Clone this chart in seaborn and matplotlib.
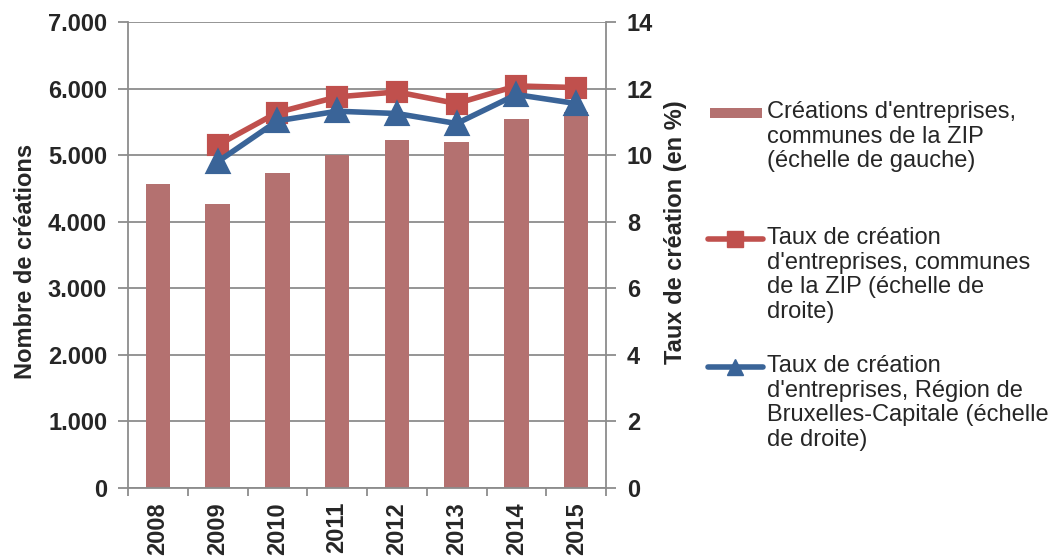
import matplotlib
matplotlib.use("Agg")
import matplotlib.pyplot as plt
import matplotlib.ticker as mticker
from matplotlib.lines import Line2D
from matplotlib.patches import Rectangle
import seaborn as sns
import pandas as pd
import numpy as np

years = ["2008", "2009", "2010", "2011", "2012", "2013", "2014", "2015"]
creations_zip = [4560, 4260, 4730, 5000, 5230, 5190, 5540, 5650]
line_years = ["2009", "2010", "2011", "2012", "2013", "2014", "2015"]
taux_zip = [10.3, 11.28, 11.75, 11.9, 11.55, 12.08, 12.03]
taux_region = [9.8, 11.03, 11.32, 11.25, 10.95, 11.82, 11.55]

label_bar = "Créations d'entreprises,\ncommunes de la ZIP\n(échelle de gauche)"
label_red = "Taux de création\nd'entreprises, communes\nde la ZIP (échelle de\ndroite)"
label_blue = "Taux de création\nd'entreprises, Région de\nBruxelles-Capitale (échelle\nde droite)"

bar_color = "#B47170"
red = "#C0504D"
blue = "#3A6498"
grid_c = "#8C8C8C"

sns.set_style("white")
plt.rcParams["font.family"] = ["Liberation Sans", "DejaVu Sans"]

W, H = 1059, 558
fig = plt.figure(figsize=(W / 100, H / 100), dpi=100)
L, R, T, B = 128, 606, 22, 488
ax = fig.add_axes([L / W, 1 - B / H, (R - L) / W, (B - T) / H])

df_bar = pd.DataFrame({"year": years, "n": creations_zip})
sns.barplot(data=df_bar, x="year", y="n", order=years, color=bar_color,
            saturation=1, width=0.41, ax=ax, zorder=2)
for p in ax.patches:
    p.set_edgecolor("none")

ax.set_ylim(0, 7000)
ax.set_xlim(-0.5, 7.5)
ax.set_yticks(np.arange(0, 7001, 1000))
ax.yaxis.set_major_formatter(mticker.FuncFormatter(lambda v, p: f"{int(v):,}".replace(",", ".")))
ax.grid(axis="y", color=grid_c, linewidth=1.3, zorder=0)
ax.set_axisbelow(True)
ax.set_xlabel("")
ax.set_ylabel("Nombre de créations", fontsize=17, fontweight="bold", labelpad=8)
ax.yaxis.label.set_y(0.487)

ax2 = ax.twinx()
df_l = pd.DataFrame({"year": line_years, "zip": taux_zip, "reg": taux_region})
sns.pointplot(data=df_l, x="year", y="zip", order=years, color=red, marker="s",
              markersize=13, linewidth=4, ax=ax2)
sns.pointplot(data=df_l, x="year", y="reg", order=years, color=blue, marker="^",
              markersize=14, linewidth=4, ax=ax2)
ax2.set_ylim(0, 14)
ax2.set_xlim(-0.5, 7.5)
ax2.set_yticks(np.arange(0, 15, 2))
ax2.set_ylabel("Taux de création (en %)", fontsize=17, fontweight="bold", labelpad=8)
ax2.yaxis.label.set_y(0.549)
ax2.set_xlabel("")

for a in (ax, ax2):
    for s in a.spines.values():
        s.set_visible(False)
ax.spines["left"].set_visible(True)
ax.spines["left"].set_color(grid_c)
ax.spines["left"].set_linewidth(1.3)
ax.spines["bottom"].set_visible(True)
ax.spines["bottom"].set_color(grid_c)
ax.spines["bottom"].set_linewidth(1.3)
ax2.spines["right"].set_visible(True)
ax2.spines["right"].set_color(grid_c)
ax2.spines["right"].set_linewidth(1.3)

ax.tick_params(axis="y", left=True, length=7, width=1.3, color=grid_c, labelsize=17, pad=8)
ax2.tick_params(axis="y", right=True, length=7, width=1.3, color=grid_c, labelsize=17, pad=8)
ax.set_xticks(range(len(years)))
ax.set_xticklabels(years, rotation=90)
ax.tick_params(axis="x", which="major", bottom=False, length=0, labelsize=17, pad=10)
ax.set_xticks(np.arange(-0.5, 8, 1), minor=True)
ax.tick_params(axis="x", which="minor", bottom=True, length=6, width=1.3, color=grid_c)
for lab in ax.get_yticklabels() + ax2.get_yticklabels() + ax.get_xticklabels():
    lab.set_fontweight("bold")

# legend (handles aligned with first text line, as in the reference)
fs_leg = 17
def fy(py):
    return 1 - py / H
fig.add_artist(Rectangle((710 / W, fy(118)), 52 / W, 10 / H, transform=fig.transFigure,
                         facecolor=bar_color, edgecolor="none"))
fig.text(767 / W, fy(101), label_bar, fontsize=fs_leg, va="top", ha="left", linespacing=1.15)
fig.add_artist(Line2D([708 / W, 763 / W], [fy(239)] * 2, transform=fig.transFigure,
                      color=red, linewidth=4))
fig.add_artist(Line2D([735 / W], [fy(239)], transform=fig.transFigure, color=red,
                      marker="s", markersize=11, linestyle="none"))
fig.text(767 / W, fy(227), label_red, fontsize=fs_leg, va="top", ha="left", linespacing=1.15)
fig.add_artist(Line2D([708 / W, 763 / W], [fy(367)] * 2, transform=fig.transFigure,
                      color=blue, linewidth=4))
fig.add_artist(Line2D([735 / W], [fy(367)], transform=fig.transFigure, color=blue,
                      marker="^", markersize=12, linestyle="none"))
fig.text(767 / W, fy(355), label_blue, fontsize=fs_leg, va="top", ha="left", linespacing=1.15)

fig.savefig("out.png", dpi=100)
